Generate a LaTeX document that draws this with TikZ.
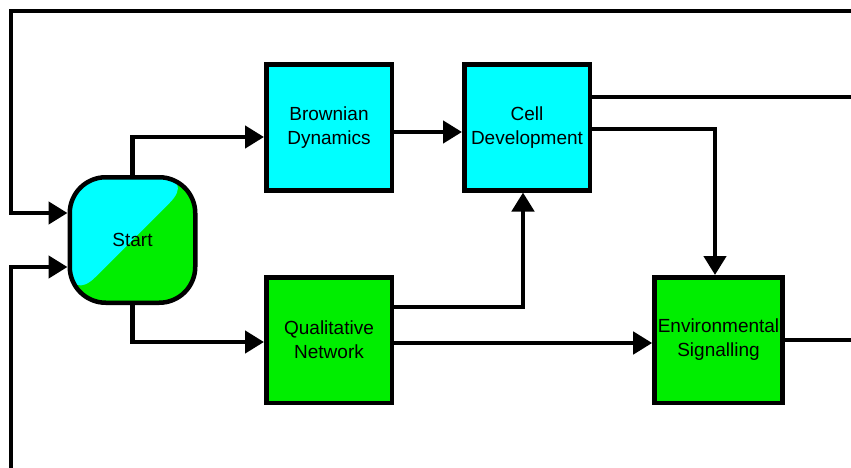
\documentclass[tikz,border=0pt]{standalone}
\usepackage{fontspec}
\setmainfont{Liberation Sans}
\definecolor{boxcyan}{RGB}{0,255,255}
\definecolor{boxgreen}{RGB}{0,238,0}
\usetikzlibrary{arrows.meta}

\begin{document}
\begin{tikzpicture}[x=1pt,y=-1pt,
        box/.style={draw,line width=4.5pt,minimum width=125.5pt,minimum height=125.5pt,
            align=center,font=\fontsize{19}{24}\selectfont},
        link/.style={line width=4.5pt,-{Triangle[length=19pt,width=22pt]}},
        wire/.style={line width=4.5pt}]
            \useasboundingbox (0,0) rectangle (851,468);
            \node[box,fill=boxgreen,rounded corners=36pt,
                path picture={\fill[boxcyan] (path picture bounding box.north west)
                    -- (path picture bounding box.north east)
                    -- (path picture bounding box.south west) -- cycle;}]
                (start) at (132.5,240) {Start};
            \node[box,fill=boxcyan] (brown) at (329,127.5) {Brownian\\Dynamics};
            \node[box,fill=boxcyan] (cell) at (527,127.5) {Cell\\Development};
            \node[box,fill=boxgreen] (qual) at (329,340) {Qualitative\\Network};
            \node[box,fill=boxgreen] (env) at (718.5,340) {Environmental\\Signalling};
            \coordinate (topL) at (11,11);
            \coordinate (topR) at (862,11);
            \coordinate (botL) at (11,480);
            \coordinate (cellOut) at (862,97);
            \coordinate (envOut) at (862,340);
            % feedback loops into start
            \draw[link] (topR)--(topL) |- ([yshift=27pt]start.west);
            \draw[link] (botL) |- ([yshift=-27pt]start.west);
            % forward links
            \draw[link] (start.north) |- ([yshift=-9.5pt]brown.west);
            \draw[link] (start.south) |- ([yshift=-2pt]qual.west);
            \draw[link] ([yshift=-4.5pt]brown.east)--([yshift=-4.5pt]cell.west);
            \draw[link] ([yshift=33pt]qual.east) -| ([xshift=-4pt]cell.south);
            \draw[link] ([yshift=-3pt]qual.east)--([yshift=-3pt]env.west);
            \draw[link] ([yshift=-1.5pt]cell.east) -| ([xshift=-3.5pt]env.north);
            % outputs leaving the frame
            \draw[wire] ([yshift=30.5pt]cell.east)--(cellOut);
            \draw[wire] (env.east)--(envOut);
        \end{tikzpicture}
\end{document}
